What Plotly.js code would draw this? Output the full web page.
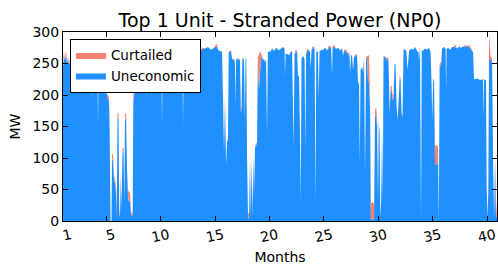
<!DOCTYPE html>
<html>
<head>
<meta charset="utf-8">
<script src="https://cdn.plot.ly/plotly-3.0.1.min.js"></script>
<style>html,body{margin:0;padding:0;background:#fff;}#chart{width:498px;height:265px;}</style>
</head>
<body>
<div id="chart"></div>
<script>
// Months (x)
const months = [
1.00,1.09,1.18,1.28,1.37,1.46,1.55,1.64,1.83,2.10,2.56,3.02,3.48,3.67,3.71,3.76,3.94,4.17,4.22,4.27,4.59,4.86,5.00,
5.05,5.14,5.23,5.28,5.37,5.46,5.51,5.60,5.69,5.78,5.88,5.95,6.01,6.11,6.17,6.24,6.32,6.38,6.47,6.57,6.64,6.70,6.80,6.89,6.98,7.07,7.16,7.26,7.35,7.41,7.47,7.53,7.60,
7.72,8.08,8.64,8.68,8.73,9.00,9.46,10.06,10.11,10.15,10.66,11.30,11.99,12.04,12.09,12.68,13.24,13.60,
13.88,14.06,14.34,14.62,14.89,15.08,15.17,15.26,15.44,15.63,
15.72,15.81,15.90,16.00,16.09,16.18,16.24,16.36,16.46,16.55,16.64,16.73,16.82,16.87,16.92,17.01,17.10,17.19,17.28,17.36,17.42,17.50,17.56,17.65,17.73,17.79,17.86,17.93,18.02,18.11,18.20,18.28,18.34,18.43,18.51,18.57,18.66,18.76,18.85,18.92,19.03,19.12,19.22,19.31,19.40,19.49,19.58,19.68,19.77,19.84,19.95,20.04,20.23,20.41,20.60,20.78,
20.87,21.06,21.24,21.38,21.42,21.47,21.61,21.79,21.93,22.07,22.21,22.30,22.39,22.53,22.62,22.71,22.80,22.87,22.94,23.08,23.22,23.29,23.36,23.45,23.59,23.72,23.79,23.86,24.00,24.14,24.23,24.30,24.46,24.52,24.60,24.74,24.92,25.10,25.29,25.43,25.56,25.66,25.75,25.80,25.93,26.12,26.30,26.48,26.67,26.76,26.85,27.04,27.17,27.26,27.36,27.40,27.50,27.59,27.68,27.77,27.86,27.96,28.05,28.14,28.23,28.30,28.37,28.51,28.60,28.69,28.78,28.88,28.97,29.06,29.15,29.24,29.32,29.43,29.52,29.61,29.70,29.80,29.89,29.98,30.04,30.12,30.19,30.26,30.35,30.42,30.48,30.62,30.71,30.81,
30.94,31.04,31.13,31.22,31.31,31.40,31.50,31.59,31.68,31.77,31.86,31.96,32.05,32.14,32.23,32.32,32.46,32.60,32.69,32.83,33.01,33.20,33.38,33.57,33.70,33.75,33.84,33.93,34.00,34.12,34.30,34.49,34.67,34.81,34.90,34.97,35.04,35.13,35.22,35.36,35.50,35.57,35.64,35.78,35.87,36.05,36.19,36.24,36.28,36.42,36.60,36.79,36.92,37.06,37.25,37.43,37.62,37.80,37.98,38.17,38.35,38.54,38.72,38.81,39.09,39.36,39.64,39.68,39.73,39.91,39.97,40.05,40.12,40.19,40.33,40.47,40.56,40.65,40.74,40.83,40.92
];

// Uneconomic stranded power (MW)
const uneconomic = [
245,262,255,265,250,258,248,255,252,258,255,260,255,258,192,258,255,258,149,255,250,255,250,
195,195,190,160,0,0,100,95,68,60,46,10,160,165,15,5,70,20,108,110,30,160,163,80,40,30,35,10,8,12,190,195,258,
262,258,262,192,260,264,258,262,149,262,258,262,260,150,262,265,268,272,
273,274,276,272,275,277,276,272,270,268,
195,110,192,90,125,130,268,270,268,258,255,259,250,182,256,258,255,257,255,172,180,258,256,259,160,256,259,102,8,2,96,6,100,6,100,40,115,125,118,255,210,235,258,262,255,258,252,256,140,268,270,268,274,270,275,272,
271,274,276,274,229,266,265,263,268,270,120,265,268,270,229,232,140,30,258,262,258,115,265,270,272,268,243,272,274,275,30,270,268,195,270,271,272,275,271,274,277,275,232,276,276,273,275,271,274,262,272,268,268,262,266,235,264,262,240,262,260,265,262,218,220,95,240,244,236,258,75,260,258,222,220,180,3,2,3,4,165,170,150,30,155,140,6,30,145,30,258,262,258,256,
254,172,205,210,192,195,250,248,185,160,186,225,225,172,165,270,273,268,240,270,274,272,276,270,268,255,276,0,272,270,274,272,275,268,220,160,222,224,89,90,92,0,244,248,274,276,273,208,273,275,272,276,276,276,274,277,275,277,276,278,276,272,268,225,226,224,225,165,225,223,54,5,50,258,256,252,95,5,98,6,8
];

// Curtailed stranded power (MW), stacked on top of Uneconomic
const curtailed = [
8,6,3,6,2,3,3,2,2,0,0,0,0,0,0,0,0,0,0,0,0,0,0,
5,5,5,8,0,0,8,10,5,5,10,8,10,8,8,0,8,5,8,6,0,10,8,0,10,15,12,4,4,5,10,8,0,
0,0,0,0,0,0,0,0,0,0,0,0,0,0,0,0,0,0,
2,0,0,0,0,4,4,0,0,2,
6,0,8,0,0,0,2,0,4,0,0,0,0,5,0,0,4,0,0,8,5,0,0,0,0,4,0,0,5,10,8,0,5,3,5,0,0,0,4,5,55,35,8,0,0,0,0,0,5,0,0,0,0,0,0,0,
0,0,0,0,0,0,0,0,0,0, 4,0,4,0,0,0,0,0,0,0, 0,5,0,4,0,0,0,0,4,0, 5,0,0,5,0,0,0,0,0,4, 0,3,0,0,4,0,0,0,0,0, 0,4,0,5,0,0,0,0,5,0, 4,0,0,4,0,5,0,0,0,4, 5,0,4,40,44,20,25,28,25,24, 12,10,15,0,5,0,0,0,0,0, 4,0,0,4,
4,6,8,5,8,5,0,0,5,0,5,5,3,0,3,3,0,0,0,0,0,0,0,0,0,0,3,0,0,0,0,0,0,0,4,0,4,0,30,31,25,0,5,5,0,0,0,0,0,0,0,0,0,4,0,0,0,0,3,0,3,3,0,0,0,0,0,0,0,0,0,0,0,40,5,5,0,4,5,25,0,27,25
];

const xTicks = [1,5,10,15,20,25,30,35,40];
const yTicks = [0,50,100,150,200,250,300];

const font = 'DejaVu Sans, sans-serif';

// stacked total for the upper band
const stackedTop = uneconomic.map((u, i) => u + curtailed[i]);

const traces = [
  {
    x: months, y: uneconomic, name: 'Uneconomic', type: 'scatter', mode: 'lines',
    fill: 'tozeroy', fillcolor: '#1E90FF', line: {width: 0, color: '#1E90FF', simplify: false},
    hoverinfo: 'skip'
  },
  {
    x: months, y: stackedTop, name: 'Curtailed', type: 'scatter', mode: 'lines',
    fill: 'tonexty', fillcolor: '#FA8072', line: {width: 0, color: '#FA8072', simplify: false},
    hoverinfo: 'skip'
  }
];

const layout = {
  width: 498, height: 265,
  margin: {l: 63, r: 1, t: 32, b: 44},
  paper_bgcolor: '#fff', plot_bgcolor: '#fff',
  font: {family: font, color: '#000', size: 14},
  title: {text: 'Top 1 Unit - Stranded Power (NP0)', font: {family: font, size: 19, color: '#000'},
          xref: 'paper', x: 0.5, xanchor: 'center', yref: 'container', y: 0.925, yanchor: 'middle'},
  showlegend: true,
  legend: {
    x: 0.016, y: 0.965, xanchor: 'left', yanchor: 'top',
    bgcolor: '#fff', bordercolor: '#000', borderwidth: 1,
    font: {family: font, size: 13.5, color: '#000'},
    traceorder: 'reversed', tracegroupgap: 0
  },
  xaxis: {
    range: [1, 40.92], tickvals: xTicks, ticktext: xTicks.map(String),
    ticks: 'inside', ticklen: 5, tickcolor: '#000', tickwidth: 1,
    showline: true, linecolor: '#000', linewidth: 1, mirror: 'ticks',
    showgrid: false, zeroline: false, tickangle: -12, ticklabelshift: 8,
    tickfont: {family: font, size: 14, color: '#000'},
    title: {text: 'Months', font: {family: font, size: 14, color: '#000'}, standoff: 10}
  },
  yaxis: {
    range: [0, 300], tickvals: yTicks, ticktext: yTicks.map(String),
    ticks: 'inside', ticklen: 5, tickcolor: '#000', tickwidth: 1,
    showline: true, linecolor: '#000', linewidth: 1, mirror: 'ticks',
    showgrid: false, zeroline: false,
    tickfont: {family: font, size: 14, color: '#000'},
    title: {text: 'MW', font: {family: font, size: 14, color: '#000'}, standoff: 8}
  }
};

Plotly.newPlot('chart', traces, layout, {displayModeBar: false, staticPlot: true});
</script>
</body>
</html>
